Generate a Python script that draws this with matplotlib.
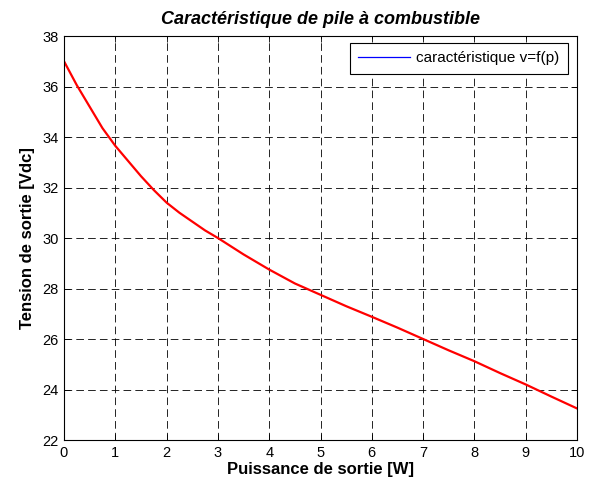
import numpy as np
import matplotlib.pyplot as plt
from matplotlib.lines import Line2D

plt.rcParams['font.family'] = ['Liberation Sans', 'DejaVu Sans']
plt.rcParams['lines.scale_dashes'] = False

# Output power (W) and output voltage (Vdc) of the fuel cell
puissance = [0, 0.25, 0.5, 0.75, 1, 1.25, 1.5, 1.75, 2, 2.25, 2.5, 2.75, 3,
             3.5, 4, 4.5, 5, 5.5, 6, 6.5, 7, 7.5, 8, 8.5, 9, 9.5, 10]
tension = [37.0, 36.05, 35.2, 34.35, 33.65, 33.05, 32.45, 31.9, 31.4, 31.0,
           30.65, 30.3, 30.0, 29.35, 28.75, 28.2, 27.75, 27.3, 26.88, 26.45,
           26.0, 25.55, 25.12, 24.65, 24.2, 23.72, 23.25]

fig = plt.figure(figsize=(5.94, 4.86), dpi=100)
ax = fig.add_axes([64 / 594, 1 - 440 / 486, 513 / 594, 404 / 486])

ax.plot(puissance, tension, color='red', linewidth=1.6)

ax.set_xlim(0, 10)
ax.set_ylim(22, 38)
ax.set_xticks(np.arange(0, 11, 1))
ax.set_yticks(np.arange(22, 39, 2))

ax.grid(True, color='black', linestyle=(0, (5.5, 3)), linewidth=0.6)
ax.tick_params(direction='in', top=True, right=True, length=4, width=0.6,
               labelsize=10.5, pad=4)
for sp in ax.spines.values():
    sp.set_linewidth(0.8)

ax.set_title('Caractéristique de pile à combustible', fontsize=13,
             fontweight='bold', fontstyle='italic', pad=8.5)
ax.set_xlabel('Puissance de sortie [W]', fontsize=12, fontweight='bold', labelpad=2)
ax.set_ylabel('Tension de sortie [Vdc]', fontsize=12, fontweight='bold', labelpad=5)

# legend handle drawn in blue, like the original figure
handle = Line2D([], [], color='#0000ff', linewidth=0.9)
leg = ax.legend([handle], ['caractéristique v=f(p)'], loc='upper right',
                bbox_to_anchor=(0.9825, 0.9827), borderaxespad=0,
                fancybox=False, framealpha=1, edgecolor='black', fontsize=11,
                handlelength=3.4, borderpad=0.55, handletextpad=0.4)
leg.get_frame().set_linewidth(0.8)

fig.savefig('out.png', dpi=100)
